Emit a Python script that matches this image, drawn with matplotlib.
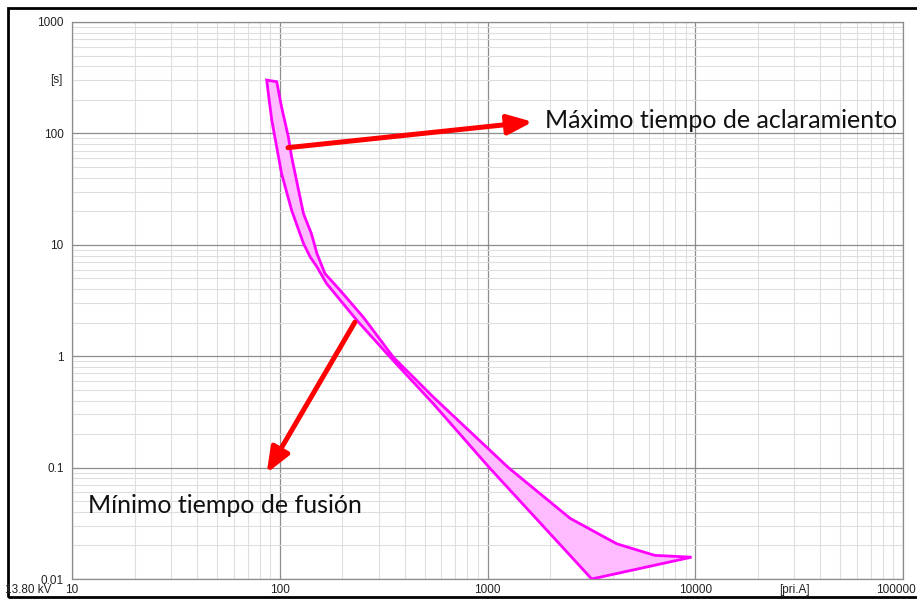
import numpy as np
import matplotlib
matplotlib.use('Agg')
import matplotlib.pyplot as plt
from matplotlib.patches import Rectangle

# curva del fusible: mínimo tiempo de fusión (borde izquierdo / inferior)
min_fusion_i = [86.5, 91.5, 102, 114, 130, 140, 151, 168, 235, 340, 548, 1020, 3175]
min_fusion_t = [301, 132, 43.7, 20.5, 10.3, 7.8, 6.33, 4.49, 2.10, 0.98, 0.375, 0.1, 0.01]

# máximo tiempo de aclaramiento (borde derecho / superior)
max_aclar_i = [96.7, 102, 110, 114, 130, 142, 151, 165, 195, 252, 352, 548, 1260, 2500, 4190, 6380, 9600]
max_aclar_t = [291, 173, 93, 62, 19.1, 12.6, 8.35, 5.52, 3.91, 2.25, 0.98, 0.43, 0.1, 0.035, 0.0207, 0.0163, 0.0157]

y_ticks = [0.01, 0.1, 1, 10, 100, 1000]
y_labels = ['0.01', '0.1', '1', '10', '100', '1000']
x_ticks = [10, 100, 1000, 10000]
x_labels = ['10', '100', '1000', '10000']

fig = plt.figure(figsize=(9.17, 6.01), dpi=100)
ax = fig.add_axes([72 / 917, 1 - 579 / 601, (903 - 72) / 917, (579 - 22) / 601])

ax.set_xscale('log')
ax.set_yscale('log')
ax.set_xlim(10, 100000)
ax.set_ylim(0.01, 1000)

# rejilla
ax.grid(True, which='minor', color='#dedede', linewidth=0.8)
ax.grid(True, which='major', color='#8c8c8c', linewidth=0.9)
ax.set_axisbelow(True)
for s in ax.spines.values():
    s.set_color('#8c8c8c')
    s.set_linewidth(0.9)

ax.tick_params(which='both', length=0)
ax.set_xticks(x_ticks + [100000])
ax.set_xticklabels([])
ax.set_yticks(y_ticks)
ax.set_yticklabels(y_labels, fontsize=8.5, family='Liberation Sans', color='#222222')
ax.tick_params(axis='y', pad=6)
ax.xaxis.set_minor_formatter(plt.NullFormatter())
ax.yaxis.set_minor_formatter(plt.NullFormatter())

# etiquetas del eje x (debajo, estilo del programa)
lab_kw = dict(fontsize=8.5, family='Liberation Sans', color='#222222')
for xv, lab in zip(x_ticks, x_labels):
    ax.text(xv, -0.02, lab, transform=ax.get_xaxis_transform(), ha='center', va='center',
            clip_on=False, **lab_kw)
ax.text(30000, -0.02, '[pri.A]', transform=ax.get_xaxis_transform(), ha='center', va='center',
        clip_on=False, **lab_kw)
fig.text(916 / 917, 1 - 590 / 601, '100000', ha='right', va='center', **lab_kw)
ax.text(-0.011, 300, '[s]', transform=ax.get_yaxis_transform(), ha='right', va='center',
        clip_on=False, **lab_kw)
fig.text(5 / 917, 1 - 590 / 601, '13.80 kV', ha='left', va='center', **lab_kw)

# banda del fusible
poly_x = min_fusion_i + max_aclar_i[::-1]
poly_y = min_fusion_t + max_aclar_t[::-1]
ax.fill(poly_x, poly_y, facecolor='#ffbbff', edgecolor='#ff00ff', linewidth=2, zorder=3)

# flechas y textos
arrow_kw = dict(arrowstyle='-|>,head_length=0.75,head_width=0.3', color='#ff0000',
                lw=3.6, mutation_scale=20, shrinkA=0, shrinkB=0)
ax.annotate('', xy=(1651, 127), xytext=(109.6, 74.5), arrowprops=arrow_kw, zorder=4)
ax.annotate('', xy=(86.5, 0.0892), xytext=(230, 2.02), arrowprops=arrow_kw, zorder=4)

ax.text(1891, 131.7, 'Máximo tiempo de aclaramiento', ha='left', va='center',
        fontsize=18, family='Lato', color='#111111', zorder=5)
ax.text(11.94, 0.0457, 'Mínimo tiempo de fusión', ha='left', va='center',
        fontsize=18, family='Lato', color='#111111', zorder=5)

# marco exterior
fig.patches.append(Rectangle((8 / 917, 1 - 597 / 601), 1.0, (597 - 8) / 601,
                             transform=fig.transFigure, fill=False,
                             edgecolor='black', linewidth=2))

plt.savefig('out.png', dpi=100)
plt.close()
